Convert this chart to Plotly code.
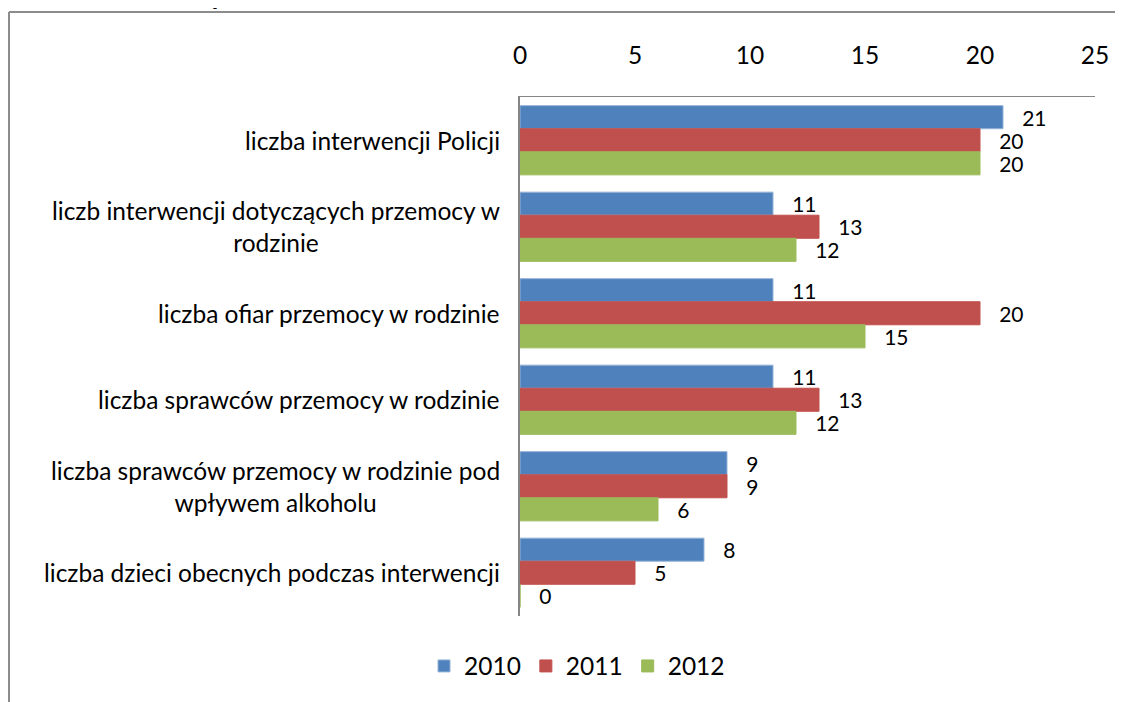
import plotly.graph_objects as go

categories = [
    "liczba interwencji Policji",
    "liczb interwencji dotyczących przemocy w<br>rodzinie",
    "liczba ofiar przemocy w rodzinie",
    "liczba sprawców przemocy w rodzinie",
    "liczba sprawców przemocy w rodzinie pod<br>wpływem alkoholu",
    "liczba dzieci obecnych podczas interwencji",
]
series_names = ["2010", "2011", "2012"]
values_2010 = [21, 11, 11, 11, 9, 8]
values_2011 = [20, 13, 20, 13, 9, 5]
values_2012 = [20, 12, 15, 12, 6, 0]
colors = ["#4F81BD", "#C0504D", "#9BBB59"]
edge_colors = ["#95B3D7", "#C0504D", "#9BBB59"]
x_ticks = [0, 5, 10, 15, 20, 25]
title_text = "ilościowe)"

FONT = "Lato"
FS = 24.5
LBL_FS = 21
OFF = 8  # page body margin
W, H = 1123 - OFF, 702 - OFF
L = 520 - OFF
R = W - (1095 - OFF)
T = 97 - OFF
B = H - (616 - OFF)
pw, ph = W - L - R, H - T - B

def px_to_paper_x(px):
    return (px - OFF - L) / pw

def px_to_paper_y(py):
    return (H - B - (py - OFF)) / ph

fig = go.Figure()
for name, vals, c, ec in zip(series_names, [values_2010, values_2011, values_2012], colors, edge_colors):
    fig.add_trace(go.Bar(
        y=categories, x=vals, name=name, orientation="h",
        marker=dict(color=c, line=dict(color=ec, width=1)),
        text=[f"   {v}" for v in vals], textposition="outside",
        textfont=dict(family=FONT, size=LBL_FS, color="black"),
        constraintext="none", cliponaxis=False,
    ))

for cat in categories:
    fig.add_annotation(
        x=0, xref="paper", y=cat, yref="y", text=cat,
        xanchor="right", align="center", xshift=-18, showarrow=False,
        font=dict(family=FONT, size=FS, color="black"),
    )

# title fragment (cut off at top, as in the source)
fig.add_annotation(
    x=px_to_paper_x(163), xref="paper", y=px_to_paper_y(11), yref="paper",
    text=f"<b>{title_text}</b>", showarrow=False, xanchor="center", yanchor="bottom",
    font=dict(family="Liberation Sans", size=24, color="black"),
)

# outer frame
fx0 = px_to_paper_x(9)
fy0 = px_to_paper_y(12)
fig.add_shape(type="line", xref="paper", yref="paper", x0=fx0, x1=fx0,
              y0=fy0, y1=px_to_paper_y(720), line=dict(color="#8C8C8C", width=2))
fig.add_shape(type="line", xref="paper", yref="paper", x0=fx0, x1=px_to_paper_x(1140),
              y0=fy0, y1=fy0, line=dict(color="#8C8C8C", width=2))

fig.update_layout(
    width=W, height=H,
    margin=dict(l=L, r=R, t=T, b=B),
    paper_bgcolor="white", plot_bgcolor="white",
    barmode="group", bargap=0.2, bargroupgap=0,
    font=dict(family=FONT, size=FS, color="black"),
    xaxis=dict(side="top", range=[0, 25], tickvals=x_ticks, showgrid=False,
               zeroline=False, showline=True, linecolor="#868686", linewidth=1,
               ticks="", ticklabelstandoff=22, tickfont=dict(family=FONT, size=FS)),
    yaxis=dict(autorange="reversed", showticklabels=False, showgrid=False,
               showline=True, linecolor="#868686", linewidth=2, ticks="", zeroline=False),
    legend=dict(orientation="h", x=px_to_paper_x(577), xanchor="center",
                y=px_to_paper_y(666), yanchor="middle",
                font=dict(family=FONT, size=FS), traceorder="normal"),
    showlegend=True,
)

fig.write_html("out.html")
